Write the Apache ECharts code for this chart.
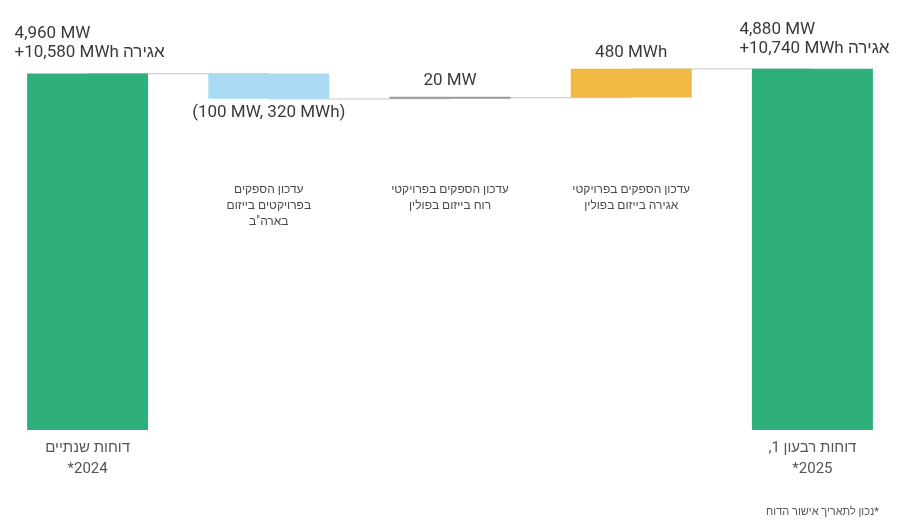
<!DOCTYPE html>
<html lang="he">
<head>
<meta charset="utf-8">
<title>עדכון הספקים</title>
<script src="https://cdn.jsdelivr.net/npm/echarts@6/dist/echarts.min.js"></script>
<style>
  html, body { margin: 0; padding: 0; background: #ffffff; overflow: hidden; }
  #chart { width: 912px; height: 527px; margin-left: -3px; }
</style>
</head>
<body>
<div id="chart"></div>
<script>
// Bidi wrappers so mixed Hebrew / number strings read right-to-left
const RLE = '\u202B', PDF = '\u202C';
const rtl = s => RLE + s + PDF;

// Steps of the bridge, left to right
const categories = ['start', 'us', 'wind', 'storage', 'end'];
const bottomLabels = [
  'דוחות שנתיים\n' + rtl('2024*'),
  '', '', '',
  rtl('דוחות רבעון 1,') + '\n' + rtl('2025*')
];
const stepLabels = [
  '',
  'עדכון הספקים\nבפרויקטים בייזום\nבארה"ב',
  'עדכון הספקים בפרויקטי\nרוח בייזום בפולין',
  'עדכון הספקים בפרויקטי\nאגירה בייזום בפולין',
  ''
];
// Capacity (MW) and storage (MWh) for each step; totals at both ends
const capacityMW = [4960, -100, 20, 0, 4880];
const storageMWh = [10580, -320, 0, 480, 10740];
const isTotal = [true, false, false, false, true];
const footnote = rtl('*נכון לתאריך אישור הדוח');

const colors = ['#2fb07b', '#a9dcf4', '#9b9b9b', '#f1b843', '#2fb07b'];

// Combined size of each step (MW + MWh) drives the bar heights
const fmt = n => Math.abs(n).toLocaleString('en-US');
const stepSize = capacityMW.map((v, i) => v + storageMWh[i]);

// Waterfall geometry: invisible base + visible segment
const baseVals = [], segVals = [], levels = [];
let running = 0;
stepSize.forEach((v, i) => {
  if (isTotal[i]) {
    baseVals.push(0);
    segVals.push(v);
    running = v;
  } else {
    const next = running + v;
    baseVals.push(Math.min(running, next));
    segVals.push(Math.abs(v));
    running = next;
  }
  levels.push(running);
});

function labelText(i) {
  if (isTotal[i]) {
    return fmt(capacityMW[i]) + ' MW\n+' + fmt(storageMWh[i]) + ' MWh אגירה';
  }
  const parts = [];
  if (capacityMW[i] !== 0) parts.push(fmt(capacityMW[i]) + ' MW');
  if (storageMWh[i] !== 0) parts.push(fmt(storageMWh[i]) + ' MWh');
  const t = parts.join(', ');
  return stepSize[i] < 0 ? '(' + t + ')' : t;
}

const FONT = 'Roboto, "Liberation Sans", "DejaVu Sans", sans-serif';

const segData = segVals.map((v, i) => {
  let label;
  if (isTotal[i]) {
    label = {
      show: true, position: 'top', distance: 11, align: 'left',
      offset: [-73, 0], lineHeight: 19, fontSize: 17
    };
  } else if (stepSize[i] < 0) {
    label = { show: true, position: 'bottom', distance: 5, fontSize: 17 };
  } else {
    label = { show: true, position: 'top', distance: 8, fontSize: 17 };
  }
  label.formatter = () => labelText(i);
  label.color = '#3a3a3a';
  label.fontFamily = FONT;
  return { value: v, itemStyle: { color: colors[i] }, label };
});

// Connector lines: from each bar's closing level to the next bar
const connectorData = levels.slice(0, -1).map((lvl, i) => [i, lvl]);

const chart = echarts.init(document.getElementById('chart'), null, { renderer: 'canvas' });
chart.setOption({
  animation: false,
  backgroundColor: '#ffffff',
  textStyle: { fontFamily: FONT },
  title: {
    text: footnote,
    right: 25, bottom: 4,
    textStyle: { fontSize: 11, fontWeight: 'normal', color: '#555', fontFamily: FONT }
  },
  grid: { left: 0, right: 6, top: 40, bottom: 97 },
  xAxis: [
    {
      type: 'category', data: categories, position: 'bottom',
      axisLine: { show: false }, axisTick: { show: false },
      axisLabel: {
        formatter: (v, i) => bottomLabels[i],
        margin: 8, fontSize: 15, lineHeight: 21, color: '#555', fontFamily: FONT
      }
    },
    {
      type: 'category', data: categories, position: 'bottom', offset: -248,
      axisLine: { show: false }, axisTick: { show: false },
      axisLabel: {
        formatter: (v, i) => stepLabels[i],
        margin: 0, fontSize: 12, lineHeight: 16, color: '#4a4a4a', fontFamily: FONT
      }
    }
  ],
  yAxis: {
    type: 'value', min: 9600, max: 16100, show: false,
    splitLine: { show: false }
  },
  series: [
    {
      type: 'custom', name: 'connector', z: 1,
      data: connectorData,
      renderItem: (params, api) => {
        const i = api.value(0), lvl = api.value(1);
        const p1 = api.coord([i, lvl]);
        const p2 = api.coord([i + 1, lvl]);
        return {
          type: 'line',
          shape: { x1: p1[0], y1: p1[1], x2: p2[0], y2: p2[1] },
          style: { stroke: '#cfd3d3', lineWidth: 1.2 }
        };
      }
    },
    {
      type: 'bar', name: 'base', stack: 'wf', z: 2,
      data: baseVals, barWidth: 121,
      itemStyle: { color: 'transparent' }, silent: true
    },
    {
      type: 'bar', name: 'step', stack: 'wf', z: 3,
      data: segData, barWidth: 121, barMinHeight: 2
    }
  ]
});
</script>
</body>
</html>
